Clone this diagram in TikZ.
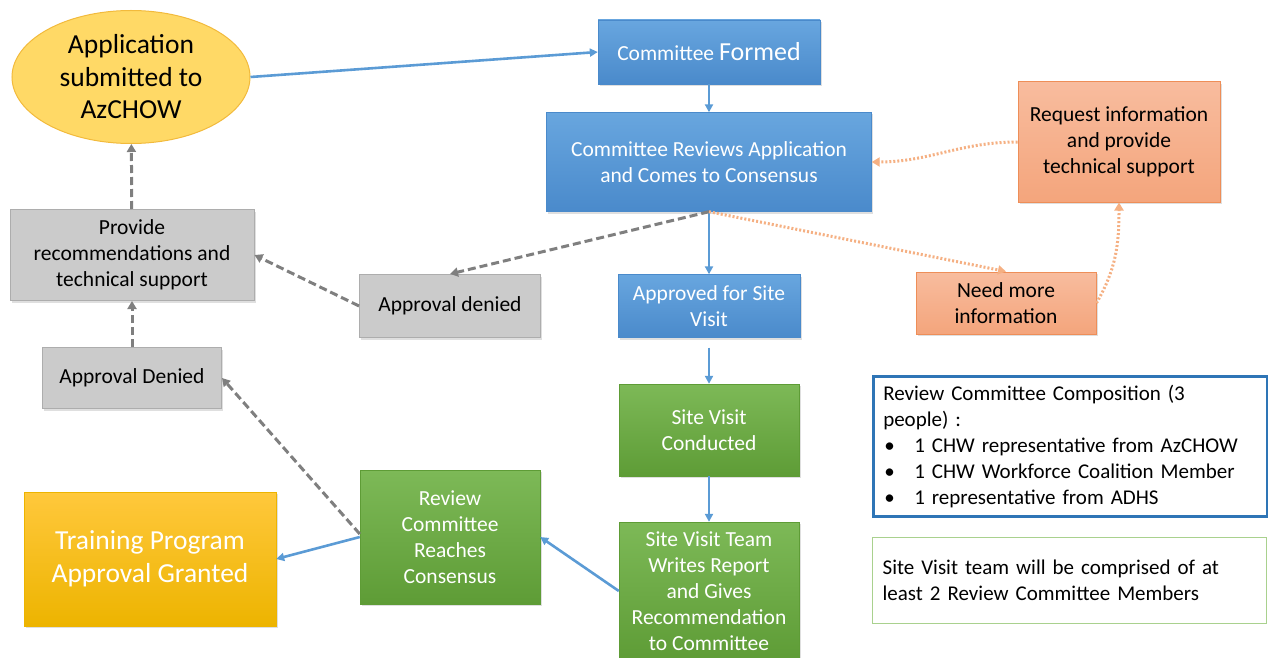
\documentclass[tikz,border=0pt]{standalone}
\usepackage{fontspec}
\setmainfont{Carlito}
\usetikzlibrary{arrows.meta,shapes.geometric,shadows}

\definecolor{blueTop}{HTML}{68A6DF}
\definecolor{blueBot}{HTML}{4A8ACB}
\definecolor{greenTop}{HTML}{7DB957}
\definecolor{greenBot}{HTML}{5E9C36}
\definecolor{yellowTop}{HTML}{FFC83C}
\definecolor{yellowBot}{HTML}{EDB400}
\definecolor{grayFill}{HTML}{CBCBCB}
\definecolor{grayEdge}{HTML}{ADADAD}
\definecolor{orangeTop}{HTML}{F8BC9E}
\definecolor{orangeBot}{HTML}{F4A57C}
\definecolor{orangeEdge}{HTML}{EE8E58}
\definecolor{ellFill}{HTML}{FFD966}
\definecolor{ellEdge}{HTML}{F2BA3C}
\definecolor{lineBlue}{HTML}{5B9BD5}
\definecolor{lineGray}{HTML}{7F7F7F}
\definecolor{lineOrange}{HTML}{F5B083}
\definecolor{compEdge}{HTML}{2E75B6}
\definecolor{teamEdge}{HTML}{A9D18E}

\newcommand{\bul}{\makebox[31pt][l]{\hspace{1pt}\textbullet}}

\begin{document}
\begin{tikzpicture}[x=1pt,y=-1pt,
  box/.style={rectangle, align=center, inner sep=3pt,
    font=\fontsize{21.5}{26}\selectfont,
    drop shadow={shadow xshift=1.5pt,shadow yshift=-2pt,opacity=.25}},
  bluebox/.style={box, top color=blueTop, bottom color=blueBot, draw=blueBot, text=white},
  greenbox/.style={box, top color=greenTop, bottom color=greenBot, draw=greenBot, text=white},
  yellowbox/.style={box, top color=yellowTop, bottom color=yellowBot, draw=yellowBot, text=white},
  graybox/.style={box, fill=grayFill, draw=grayEdge, line width=1pt},
  orangebox/.style={box, top color=orangeTop, bottom color=orangeBot, draw=orangeEdge, line width=1pt},
  notebox/.style={rectangle, align=left, anchor=north west, inner xsep=9pt,
    text width=374pt, font=\fontsize{21}{26}\selectfont, minimum width=394pt},
  flow/.style={draw=lineBlue, line width=2.6pt, -{Triangle[length=8pt,width=8pt]}},
  back/.style={draw=lineGray, line width=3pt, dash pattern=on 8pt off 4pt,
    -{Triangle[length=8pt,width=9pt]}},
  info/.style={draw=lineOrange, line width=3pt, dash pattern=on 2pt off 2pt,
    -{Triangle[length=8pt,width=9pt]}}]
  \useasboundingbox (0,0) rectangle (1268,658);

  % main column
  \node[ellipse, draw=ellEdge, fill=ellFill, line width=1pt, minimum width=238pt,
    minimum height=133pt, align=center, font=\fontsize{27.5}{32.5}\selectfont]
    (app) at (131,77) {Application\\ submitted to\\ AzCHOW};
  \node[bluebox, minimum width=222pt, minimum height=64pt] (formed) at (709,52)
    {Committee {\fontsize{26}{26}\selectfont Formed}};
  \node[bluebox, minimum width=325pt, minimum height=99pt] (reviews) at (709,162)
    {Committee Reviews Application\\ and Comes to Consensus};
  \node[bluebox, minimum width=182pt, minimum height=63pt] (approved) at (709,306)
    {Approved for Site\\ Visit};
  \node[greenbox, minimum width=180pt, minimum height=92pt] (conducted) at (709,430)
    {Site Visit\\ Conducted};
  \node[greenbox, minimum width=180pt, minimum height=138pt] (report) at (709,591)
    {Site Visit Team\\ Writes Report\\ and Gives\\ Recommendation\\ to Committee};
  \node[greenbox, minimum width=180pt, minimum height=134pt] (consensus) at (450,537)
    {Review\\ Committee\\ Reaches\\ Consensus};
  \node[yellowbox, minimum width=252pt, minimum height=134pt,
    font=\fontsize{27.5}{33}\selectfont] (granted) at (150,559)
    {Training Program\\ Approval Granted};

  % denial branch
  \node[graybox, minimum width=244pt, minimum height=91pt] (provide) at (132,255)
    {Provide\\ recommendations and\\ technical support};
  \node[graybox, minimum width=181pt, minimum height=63pt] (denied) at (450,306)
    {Approval denied};
  \node[graybox, minimum width=179pt, minimum height=61pt] (deniedlow) at (132,378)
    {Approval Denied};

  % information loop
  \node[orangebox, minimum width=202pt, minimum height=120pt] (request) at (1119,142)
    {Request information\\ and provide\\ technical support};
  \node[orangebox, minimum width=180pt, minimum height=62pt] (moreinfo) at (1006,303)
    {Need more\\ information};

  % notes
  \node[notebox, draw=compEdge, line width=2.5pt, minimum height=140pt] (composition)
    at (872,375) {Review Committee Composition (3\\ people) :\\
    \bul 1 CHW representative from AzCHOW\\
    \bul 1 CHW Workforce Coalition Member\\
    \bul 1 representative from ADHS};
  \node[notebox, draw=teamEdge, line width=1.2pt, minimum height=86pt] (team)
    at (872,537) {Site Visit team will be comprised of at\\
    least 2 Review Committee Members};

  \draw[flow] (app.east) -- (formed.west);
  \draw[flow] (formed) -- (reviews);
  \draw[flow] (reviews) -- (approved);
  \draw[flow, shorten <=10pt] (approved) -- (conducted);
  \draw[flow] (conducted) -- (report);
  \draw[flow] (report.west) -- (consensus.east);
  \draw[flow] (consensus.west) -- (granted.east);

  \draw[back] (reviews.south) -- (denied.north);
  \draw[back] (denied.west) -- (provide.east);
  \draw[back] (deniedlow) -- (provide);
  \draw[back] (provide) -- (app);
  \draw[back] ([yshift=3pt]consensus.west) -- (deniedlow.east);

  \draw[info] (reviews.south) -- (moreinfo.north);
  \draw[info] (moreinfo.east) to[out=60,in=-90] (request.south);
  \draw[info] (request.west) to[out=180,in=0] (reviews.east);
\end{tikzpicture}
\end{document}
